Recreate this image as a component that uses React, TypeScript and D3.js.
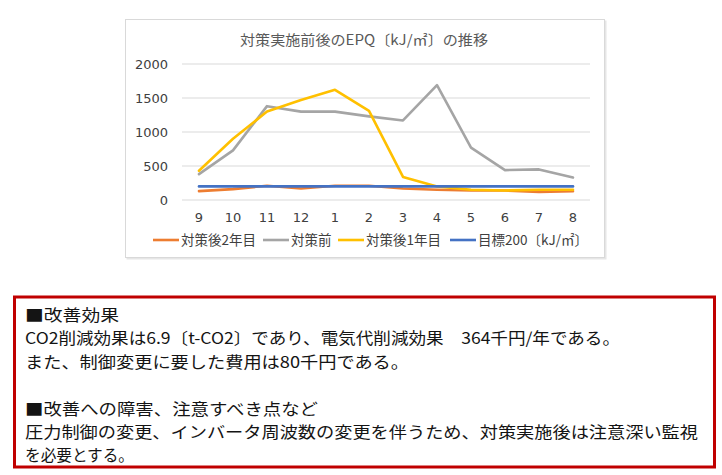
import * as d3 from 'd3';

const months = ['9', '10', '11', '12', '1', '2', '3', '4', '5', '6', '7', '8'];
const seriesNames = ['対策後2年目', '対策前', '対策後1年目', '目標200〔kJ/㎡〕'];
const year2Values = [130, 160, 210, 170, 210, 210, 170, 150, 140, 140, 120, 130];
const beforeValues = [380, 730, 1380, 1300, 1300, 1230, 1170, 1690, 770, 440, 450, 330];
const year1Values = [430, 900, 1300, 1470, 1620, 1310, 340, 200, 150, 140, 150, 150];
const targetValues = [200, 200, 200, 200, 200, 200, 200, 200, 200, 200, 200, 200];
const yTicks = [0, 500, 1000, 1500, 2000];
const seriesColors = ['#ED7D31', '#A5A5A5', '#FFC000', '#4472C4'];

const chartTitle = '対策実施前後のEPQ〔kJ/㎡〕の推移';
const noteLines = [
  '■改善効果',
  'CO2削減効果は6.9〔t-CO2〕であり、電気代削減効果　364千円/年である。',
  'また、制御変更に要した費用は80千円である。',
  '',
  '■改善への障害、注意すべき点など',
  '圧力制御の変更、インバータ周波数の変更を伴うため、対策実施後は注意深い監視',
  'を必要とする。',
];
// right end of each note line as seen in the picture (layout, not data)
const noteEnds = [119, 620, 409, 0, 318, 698, 134];

const W = 722;
const H = 475;
const plot = { left: 182, right: 590, top: 64, bottom: 200 };
const legendX = [153, 263, 338, 450];

export default function App() {
  const x = d3.scalePoint<string>().domain(months).range([plot.left, plot.right]).padding(0.5);
  const y = d3.scaleLinear().domain([0, 2000]).range([plot.bottom, plot.top]);
  const line = d3
    .line<number>()
    .x((_, i) => x(months[i]) as number)
    .y((d) => y(d));
  const allSeries = [year2Values, beforeValues, year1Values, targetValues];
  const cjk = '"Noto Sans CJK JP", "Noto Sans", sans-serif';

  return (
    <svg
      width={W}
      height={H}
      style={{ position: 'absolute', left: 0, top: 0, background: '#fff' }}
    >
      {/* chart frame */}
      <rect x={126.5} y={20.5} width={480} height={239} fill="#e6e6e6" />
      <rect x={125.5} y={19.5} width={479} height={238} fill="#fff" stroke="#d9d9d9" />
      <text
        x={364}
        y={45}
        textAnchor="middle"
        fontSize={14}
        fill="#595959"
        fontFamily={cjk}
        textLength={248}
        lengthAdjust="spacingAndGlyphs"
      >
        {chartTitle}
      </text>

      {/* grid + y ticks */}
      {yTicks.map((t) => (
        <g key={t}>
          <line x1={plot.left} x2={plot.right} y1={y(t)} y2={y(t)} stroke="#d9d9d9" strokeWidth={1} />
          <text
            x={168}
            y={y(t) + 4.5}
            textAnchor="end"
            fontSize={13}
            fill="#404040"
            fontFamily='"DejaVu Sans", sans-serif'
          >
            {t}
          </text>
        </g>
      ))}

      {/* x labels */}
      {months.map((m) => (
        <text
          key={m}
          x={x(m)}
          y={222}
          textAnchor="middle"
          fontSize={13}
          fill="#404040"
          fontFamily='"DejaVu Sans", sans-serif'
        >
          {m}
        </text>
      ))}

      {/* series */}
      {allSeries.map((vals, i) => (
        <path
          key={seriesNames[i]}
          d={line(vals) ?? ''}
          fill="none"
          stroke={seriesColors[i]}
          strokeWidth={2.6}
          strokeLinejoin="round"
          strokeLinecap="round"
        />
      ))}

      {/* legend */}
      {seriesNames.map((name, i) => (
        <g key={name}>
          <line
            x1={legendX[i]}
            x2={legendX[i] + 26}
            y1={240}
            y2={240}
            stroke={seriesColors[i]}
            strokeWidth={2.6}
          />
          <text x={legendX[i] + 28} y={245} fontSize={13.5} fill="#404040" fontFamily={cjk}>
            {name}
          </text>
        </g>
      ))}

      {/* notes box */}
      <rect x={14.5} y={297} width={700} height={170} fill="#fff" stroke="#C00000" strokeWidth={3} />
      {noteLines.map((t, i) =>
        t ? (
          <text
            key={i}
            x={25}
            y={321 + i * 23.4}
            fontSize={16}
            fill="#141414"
            fontFamily={cjk}
            textLength={noteEnds[i] - 25}
            lengthAdjust="spacingAndGlyphs"
          >
            {t}
          </text>
        ) : null
      )}
    </svg>
  );
}
